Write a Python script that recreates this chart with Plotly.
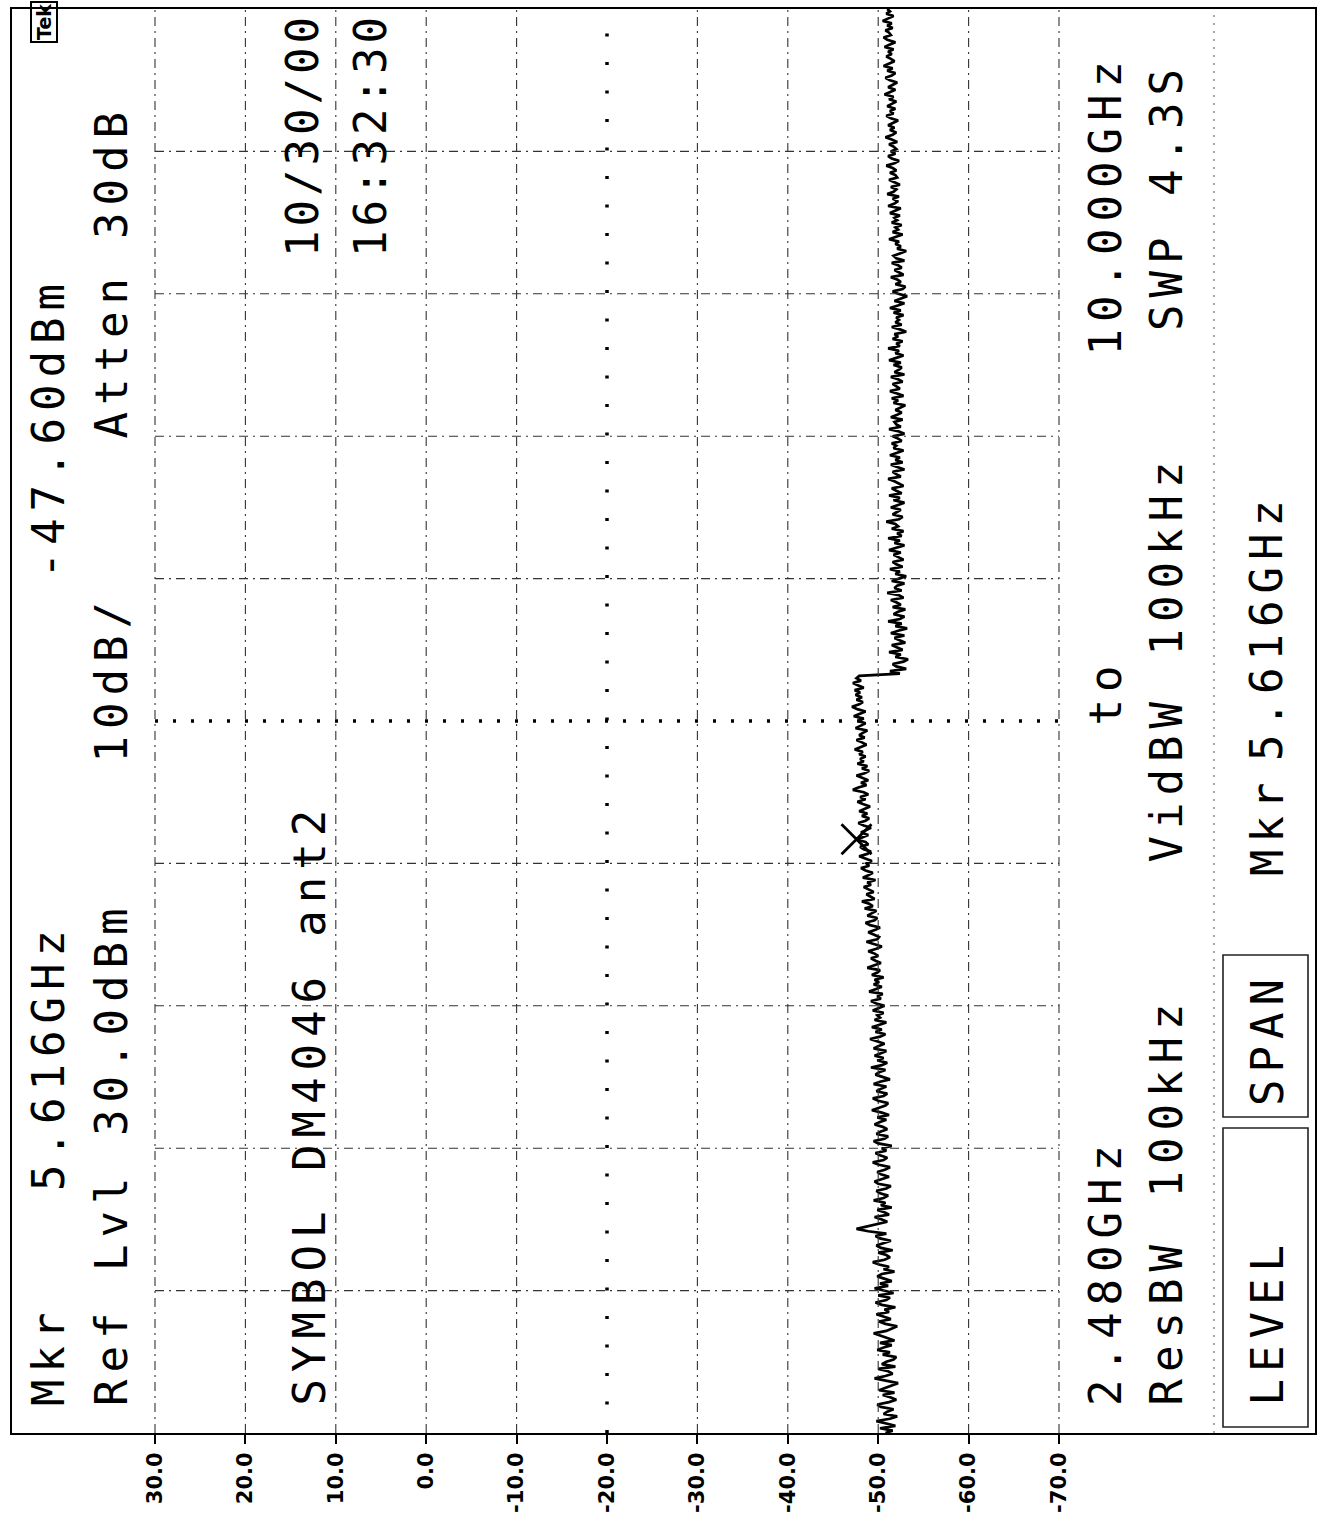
import numpy as np
import plotly.graph_objects as go

# ---------------- data ----------------
F_START = 2.480   # GHz (bottom of screen)
F_STOP = 10.000   # GHz (top of screen)
AMP_TICKS = [30, 20, 10, 0, -10, -20, -30, -40, -50, -60, -70]
AMP_TICKTEXT = ["30.0", "20.0", "10.0", "0.0", "-10.0", "-20.0", "-30.0",
                "-40.0", "-50.0", "-60.0", "-70.0"]
FREQ_DIVISIONS = 10

AMP_LOW = [
    -50.8, -51.6, -50.2, -51.9, -50.9, -49.8, -51.3, -52.1, -50.6, -51.0,
    -51.7, -50.3, -49.9, -51.2, -52.0, -51.4, -50.5, -51.8, -50.1, -50.9,
    -51.5, -52.2, -50.7, -49.6, -50.8, -51.6, -51.1, -50.0, -51.9, -50.4,
    -50.9, -51.7, -52.0, -50.5, -51.3, -49.9, -50.6, -51.5, -50.2, -51.8,
    -51.0, -50.3, -49.5, -50.9, -51.6, -52.1, -50.8, -50.1, -51.4, -50.6,
    -49.8, -51.2, -50.7, -51.9, -50.4, -49.7, -50.9, -51.3, -50.0, -51.7,
    -50.5, -49.6, -51.1, -50.2, -51.5, -50.8, -49.9, -50.4, -51.8, -50.6,
    -51.2, -50.1, -49.4, -50.7, -51.3, -50.9, -50.0, -51.6, -50.3, -49.8,
    -50.6, -51.4, -50.2, -49.7, -50.9, -48.9, -47.6, -48.8, -50.1, -51.0,
    -50.4, -49.6, -51.2, -50.7, -49.9, -51.5, -50.3, -50.8, -49.5, -50.6,
    -51.1, -50.2, -49.8, -50.9, -51.4, -50.0, -49.6, -50.5, -51.2, -50.3,
    -49.9, -50.8, -51.3, -50.1, -49.4, -50.6, -51.0, -50.2, -49.7, -50.9,
    -50.4, -51.5, -50.0, -49.5, -50.7, -51.1, -49.8, -50.3, -51.0, -50.5,
    -49.6, -50.2, -50.9, -49.9, -51.2, -50.4, -49.3, -50.1, -50.8, -51.1,
    -50.0, -49.4, -50.6, -51.0, -49.8, -50.3, -50.9, -49.5, -50.2, -51.3,
    -50.5, -49.7, -50.1, -50.8, -49.2, -50.4, -51.0, -49.9, -50.6, -49.6,
    -50.3, -50.9, -49.5, -50.0, -50.7, -49.8, -49.1, -50.2, -50.8, -49.7,
    -50.4, -49.3, -50.1, -50.9, -49.6, -50.2, -49.9, -50.6, -49.4, -50.0,
    -50.7, -49.8, -49.2, -50.3, -49.9, -50.5, -49.0, -49.7, -50.4, -49.5,
    -50.1, -49.6, -50.6, -49.3, -49.9, -50.2, -48.8, -49.5, -50.3, -49.7,
    -49.2, -50.0, -49.6, -48.9, -49.8, -50.4, -49.4, -48.7, -49.9, -50.1,
    -49.5, -48.9, -49.7, -50.2, -49.1, -48.6, -49.6, -49.9, -48.8, -49.3,
    -49.8, -48.5, -49.4, -49.0, -48.2, -49.6, -49.1, -48.7, -49.5, -48.9,
    -48.4, -49.2, -48.8, -49.7, -48.3, -48.9, -49.4, -48.6, -48.1, -49.0,
    -48.7, -49.3, -48.5, -47.9, -48.8, -49.2, -48.4, -48.0, -48.9, -48.6,
    -47.6, -48.3, -48.9, -48.1, -48.7, -49.2, -48.4, -47.8, -48.6, -49.0,
    -48.2, -48.8, -47.9, -48.5, -49.1, -48.3, -47.7, -48.6, -48.0, -48.9,
    -48.4, -47.2, -47.8, -48.7, -48.1, -48.9, -48.3, -47.6, -48.5, -49.0,
    -48.2, -48.8, -47.7, -48.4, -48.0, -48.6, -47.9, -48.3, -47.4, -48.1,
    -48.7, -48.2, -47.6, -48.5, -47.9, -48.3, -48.8, -47.5, -48.1, -48.6,
    -47.8, -48.4, -47.3, -48.0, -48.6, -47.7, -47.1, -47.9, -48.3, -47.6,
    -48.2, -47.5, -48.0, -47.4, -48.4, -47.8, -47.2, -48.1, -47.6, -47.9,
]
# trace amplitude (dBm) from the step up to 10 GHz
AMP_HIGH = [
    -52.4, -51.3, -53.1, -52.0, -51.6, -52.8, -53.3, -51.9, -52.5, -51.2,
    -52.7, -52.1, -51.5, -53.0, -52.3, -51.8, -52.9, -51.4, -52.2, -53.2,
    -51.9, -52.6, -51.1, -52.4, -52.9, -51.7, -52.2, -53.0, -51.6, -52.5,
    -52.0, -51.4, -52.8, -52.3, -51.0, -52.6, -51.8, -52.1, -52.9, -51.5,
    -52.3, -53.1, -51.9, -52.4, -51.3, -52.7, -52.0, -51.6, -52.8, -52.2,
    -51.7, -52.5, -51.2, -52.0, -52.9, -51.8, -52.4, -51.1, -52.6, -52.1,
    -52.8, -51.5, -52.2, -51.9, -50.9, -52.3, -52.7, -51.6, -52.0, -52.5,
    -51.4, -52.1, -52.9, -51.7, -52.4, -51.2, -52.6, -52.0, -51.5, -52.8,
    -52.3, -51.8, -51.1, -52.5, -52.0, -51.6, -52.9, -52.2, -51.4, -52.7,
    -51.9, -52.4, -51.3, -52.1, -52.8, -51.7, -52.0, -51.5, -52.6, -52.2,
    -51.6, -52.9, -52.3, -51.2, -52.5, -52.0, -51.8, -52.7, -51.4, -52.1,
    -52.6, -51.9, -52.4, -53.0, -51.7, -52.2, -51.5, -52.8, -52.1, -51.3,
    -52.4, -52.0, -51.6, -52.7, -52.2, -51.4, -52.9, -51.8, -52.3, -52.6,
    -51.7, -52.5, -51.2, -52.0, -52.8, -51.9, -52.3, -51.1, -52.4, -52.0,
    -52.7, -51.6, -52.2, -51.8, -53.1, -52.4, -51.5, -52.6, -51.9, -52.3,
    -52.0, -52.8, -51.7, -52.5, -51.3, -52.1, -52.9, -51.8, -52.4, -53.2,
    -52.2, -51.6, -52.7, -53.0, -51.9, -52.5, -52.1, -51.4, -52.8, -52.3,
    -51.8, -52.6, -52.2, -51.5, -52.9, -52.0, -51.7, -52.4, -53.1, -52.1,
    -52.5, -51.9, -52.3, -51.2, -52.0, -52.7, -51.6, -52.2, -51.9, -52.6,
    -51.5, -52.1, -51.8, -52.4, -51.3, -51.9, -52.5, -51.1, -51.8, -52.2,
    -51.6, -52.3, -51.0, -51.7, -52.0, -51.4, -52.4, -51.8, -51.2, -52.1,
    -51.9, -51.3, -52.0, -51.6, -50.9, -51.8, -52.3, -51.5, -51.1, -51.9,
    -51.4, -52.0, -51.7, -51.2, -52.1, -51.5, -50.8, -51.6, -52.0, -51.3,
    -51.8, -51.1, -51.6, -52.2, -51.4, -50.9, -51.7, -51.3, -51.9, -51.0,
    -51.5, -52.0, -51.2, -51.7, -50.7, -51.4, -51.9, -51.1, -51.6, -52.1,
    -51.3, -50.8, -51.5, -51.9, -51.0, -51.6, -50.6, -51.2, -51.8, -51.4,
    -50.9, -51.5, -51.1, -51.7, -50.7, -51.3, -51.9, -51.0, -50.6, -51.4,
    -51.2, -50.8, -51.6, -51.0, -51.5, -50.5, -51.1, -51.7, -50.9, -51.3,
    -51.0,
]
MARKER_FREQ = [5.616]
MARKER_AMP = [-47.6]

# ---------------- layout geometry (pixels in the page) ----------------
W, H = 1317, 1522
BOX_L, BOX_R, BOX_T, BOX_B = 12, 1315, 9, 1433
PX_AMP30, PX_AMP_M70 = 155, 1059

def px_to_amp(px):
    return 30 + (PX_AMP30 - px) * 100.0 / (PX_AMP_M70 - PX_AMP30)

def pxx(px):
    return (px - BOX_L) / (BOX_R - BOX_L)

def pxy(py):
    return (BOX_B - py) / (BOX_B - BOX_T)

amp = AMP_LOW + AMP_HIGH
freq = np.linspace(F_START, F_STOP, len(amp))
fdiv = [F_START + k * (F_STOP - F_START) / FREQ_DIVISIONS for k in range(FREQ_DIVISIONS + 1)]

fig = go.Figure()
fig.add_trace(go.Scatter(x=amp, y=freq, mode="lines",
                         line=dict(color="black", width=2.7), hoverinfo="skip"))
fig.add_trace(go.Scatter(x=MARKER_AMP, y=MARKER_FREQ, mode="markers",
                         marker=dict(symbol="x-thin", size=30,
                                     line=dict(color="black", width=2.8)),
                         hoverinfo="skip"))

shapes = []
GRID = dict(color="#333333", width=1.1, dash="9px,5px,2px,5px")
for a in AMP_TICKS:
    if a == -20:
        shapes.append(dict(type="line", xref="x", yref="paper", x0=a, x1=a, y0=0, y1=1,
                           line=dict(color="black", width=3.5, dash="3px,25.5px")))
    else:
        shapes.append(dict(type="line", xref="x", yref="paper", x0=a, x1=a, y0=0, y1=1,
                           line=GRID))
for k, f in enumerate(fdiv[1:-1], start=1):
    if k == FREQ_DIVISIONS // 2:
        shapes.append(dict(type="line", xref="x", yref="y", x0=AMP_TICKS[0], x1=AMP_TICKS[-1],
                           y0=f, y1=f, line=dict(color="black", width=3.5, dash="3px,15px")))
    else:
        shapes.append(dict(type="line", xref="x", yref="y", x0=AMP_TICKS[0], x1=AMP_TICKS[-1],
                           y0=f, y1=f, line=GRID))
# separator of soft-key area
shapes.append(dict(type="line", xref="paper", yref="paper", x0=pxx(1214), x1=pxx(1214),
                   y0=0, y1=1, line=dict(color="#555555", width=1, dash="2px,6px")))
# LEVEL / SPAN soft-key boxes
for (y_top, y_bot) in [(1128, 1427), (955, 1117)]:
    shapes.append(dict(type="rect", xref="paper", yref="paper",
                       x0=pxx(1223), x1=pxx(1308), y0=pxy(y_bot), y1=pxy(y_top),
                       line=dict(color="#222222", width=1.6)))

MONO = "DejaVu Sans Mono, Liberation Mono, monospace"
annotations = []

def txt(s, cx, y_start, size=44, spacing=7):
    annotations.append(dict(
        text=f'<span style="letter-spacing:{spacing}px">{s}</span>',
        x=pxx(cx), y=pxy(y_start), xref="paper", yref="paper",
        xanchor="center", yanchor="bottom", textangle=-90, showarrow=False,
        borderpad=0, font=dict(family=MONO, size=size, color="black")))

# column 1
txt("Mkr", 48, 1407)
txt("5.616GHz", 48, 1192)
txt("-47.60dBm", 48, 580)
# column 2
txt("Ref", 111, 1407)
txt("Lvl", 111, 1272)
txt("30.0dBm", 111, 1137)
txt("10dB/", 111, 764)
txt("Atten", 111, 440)
txt("30dB", 111, 240)
# column 3
txt("SYMBOL DM4046 ant2", 309, 1407)
txt("10/30/00", 302, 258, spacing=4)
txt("16:32:30", 370, 258, spacing=4)
# lower columns
txt("2.480GHz", 1105, 1407)
txt("to", 1105, 727)
txt("10.000GHz", 1105, 357)
txt("ResBW", 1166, 1407)
txt("100kHz", 1166, 1199)
txt("VidBW", 1166, 864)
txt("100kHz", 1166, 657)
txt("SWP", 1166, 332)
txt("4.3S", 1166, 197)
txt("LEVEL", 1267, 1407)
txt("SPAN", 1267, 1107)
txt("Mkr", 1267, 877)
txt("5.616GHz", 1267, 762)

# Tek logo
annotations.append(dict(text="<b>Tek</b>", x=pxx(44), y=pxy(22), xref="paper", yref="paper",
                        xanchor="center", yanchor="middle", textangle=-90, showarrow=False,
                        bordercolor="black", borderwidth=2, borderpad=1,
                        font=dict(family="DejaVu Sans", size=19, color="black")))

fig.update_layout(
    width=W, height=H,
    margin=dict(l=BOX_L, r=W - BOX_R, t=BOX_T, b=H - BOX_B, autoexpand=False),
    paper_bgcolor="white", plot_bgcolor="white",
    showlegend=False,
    shapes=shapes, annotations=annotations,
    xaxis=dict(range=[px_to_amp(BOX_L), px_to_amp(BOX_R)], tickvals=AMP_TICKS,
               ticktext=AMP_TICKTEXT, tickangle=-90, ticks="outside", ticklen=9,
               tickwidth=2, tickcolor="black", showgrid=False, zeroline=False,
               automargin=False,
               showline=True, mirror=True, linecolor="black", linewidth=2,
               tickfont=dict(family="DejaVu Sans", size=21, color="black", weight="bold")),
    yaxis=dict(range=[F_START, F_STOP], showticklabels=False, ticks="", showgrid=False,
               automargin=False,
               zeroline=False, showline=True, mirror=True, linecolor="black", linewidth=2),
)

fig.write_html("out.html", config={"displayModeBar": False},
               post_script="document.body.style.margin='0';")
